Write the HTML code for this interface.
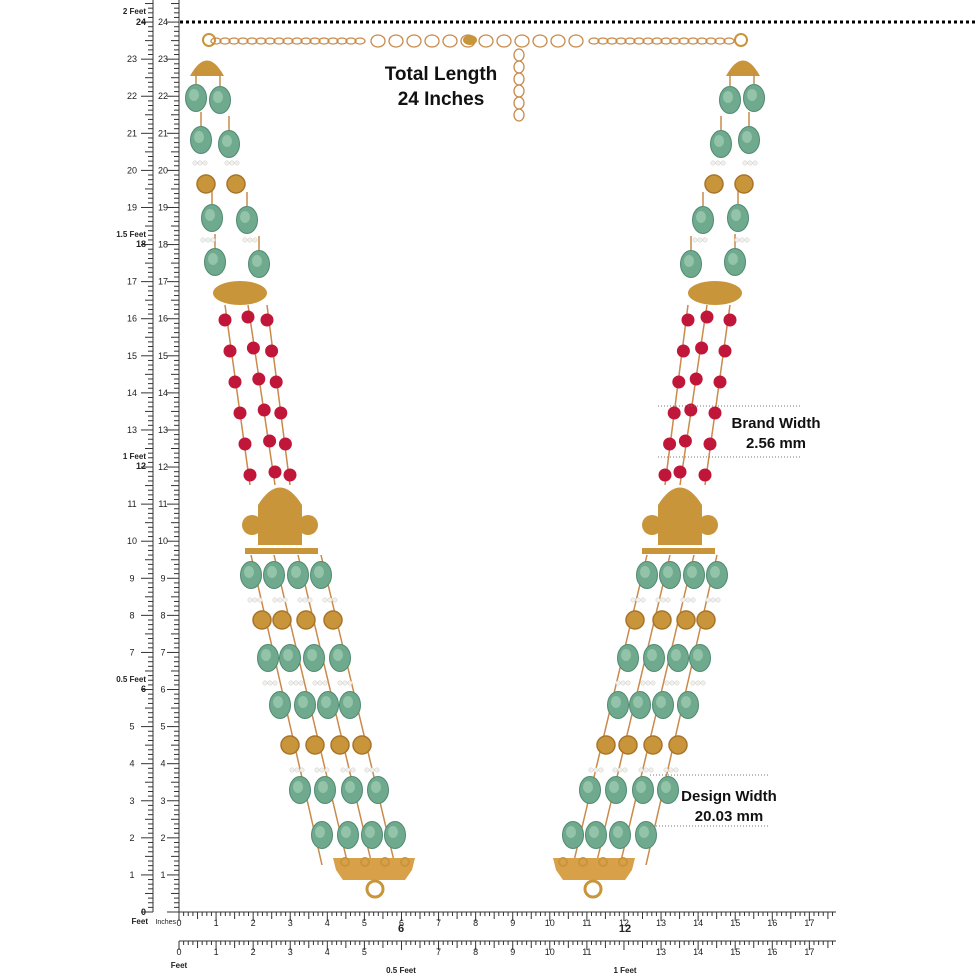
<!DOCTYPE html>
<html><head><meta charset="utf-8">
<style>
html,body{margin:0;padding:0;background:#fff;}
svg{display:block;}
text{font-family:"Liberation Sans",sans-serif;}
.lb{font-size:9px;fill:#222;}
.bd{font-weight:bold;}
</style></head>
<body>
<svg id="s" width="976" height="976" viewBox="0 0 976 976" xmlns="http://www.w3.org/2000/svg">
<rect width="976" height="976" fill="#fff"/>
<g id="rul" stroke="#333" stroke-width="1"></g>
<line x1="180" y1="22" x2="976" y2="22" stroke="#000" stroke-width="3" stroke-dasharray="3,3"/>
<g id="neck"></g>
<g class="lb" text-anchor="end">
<text x="146" y="14" class="bd" font-size="8">2 Feet</text><text x="146" y="25" class="bd" font-size="9">24</text>
<text x="146" y="237" class="bd" font-size="8">1.5 Feet</text><text x="146" y="247" class="bd">18</text>
<text x="146" y="459" class="bd" font-size="8">1 Feet</text><text x="146" y="469" class="bd">12</text>
<text x="146" y="682" class="bd" font-size="8">0.5 Feet</text><text x="146" y="692" class="bd">6</text>
<text x="146" y="915" class="bd">0</text><text x="148" y="924" class="bd" font-size="8">Feet</text>
<text x="176" y="924" font-size="7">Inches</text>
</g>
<g id="lbl" class="lb" text-anchor="middle"></g>
<g class="lb bd" text-anchor="middle">
<text x="401" y="932" font-size="11">6</text>
<text x="625" y="932" font-size="11">12</text>
<text x="179" y="968" font-size="8">Feet</text>
<text x="401" y="973" font-size="8">0.5 Feet</text>
<text x="625" y="973" font-size="8">1 Feet</text>
</g>
<g font-weight="bold" fill="#111" text-anchor="middle">
<text x="441" y="80" font-size="19">Total Length</text>
<text x="441" y="105" font-size="19">24 Inches</text>
<text x="776" y="428" font-size="15">Brand Width</text>
<text x="776" y="448" font-size="15">2.56 mm</text>
<text x="729" y="801" font-size="15">Design Width</text>
<text x="729" y="821" font-size="15">20.03 mm</text>
</g>
<g stroke="#777" stroke-width="1" stroke-dasharray="1,2">
<line x1="658" y1="406" x2="800" y2="406"/><line x1="658" y1="457" x2="800" y2="457"/>
<line x1="650" y1="775" x2="770" y2="775"/><line x1="650" y1="826" x2="770" y2="826"/>
</g>
</svg>
<script>
var NS="http://www.w3.org/2000/svg";
function el(p,t,a){var e=document.createElementNS(NS,t);for(var k in a)e.setAttribute(k,a[k]);p.appendChild(e);return e;}
var R=document.getElementById("rul"),L=document.getElementById("lbl"),N=document.getElementById("neck");
var u=37.08,y0=912,x0=179;
el(R,"line",{x1:153,y1:0,x2:153,y2:912});
el(R,"line",{x1:179,y1:0,x2:179,y2:912});
el(R,"line",{x1:179,y1:912,x2:836,y2:912});
el(R,"line",{x1:179,y1:941,x2:836,y2:941});
for(var i=0;i<=24*8+4;i++){var y=y0-i*u/8;if(y<0)break;var l=i%8==0?12:(i%4==0?8:5);
el(R,"line",{x1:153-l,y1:y,x2:153,y2:y});el(R,"line",{x1:179-l,y1:y,x2:179,y2:y});}
for(var i=0;i<=17.7*8;i++){var x=x0+i*u/8;var l=i%8==0?9:(i%4==0?7:4);
el(R,"line",{x1:x,y1:912,x2:x,y2:912+l});el(R,"line",{x1:x,y1:941,x2:x,y2:941+l});}
for(var i=1;i<=24;i++){var y=y0-i*u+3;
 if(i%6){var t=el(L,"text",{x:132,y:y});t.textContent=i;}
 var t2=el(L,"text",{x:163,y:y});t2.textContent=i;}
for(var i=0;i<=17;i++){var x=x0+i*u;var t=el(L,"text",{x:x,y:926});t.textContent=i;
 if(i!=6&&i!=12){var t3=el(L,"text",{x:x,y:955});t3.textContent=i;}}
var G="#c8953a",GD="#a8742a";
function chain(a,b,c,d){el(N,"line",{x1:a,y1:b,x2:c,y2:d,stroke:"#c98a4a","stroke-width":1.5});}
function green(x,y){el(N,"ellipse",{cx:x,cy:y,rx:10.5,ry:13.5,fill:"#6fa98e",stroke:"#4f8a70","stroke-width":1});el(N,"ellipse",{cx:x-2,cy:y-3,rx:5,ry:6,fill:"#93c4aa"});}
function gold(x,y){el(N,"circle",{cx:x,cy:y,r:9,fill:G,stroke:GD,"stroke-width":1.5});}
function red(x,y){el(N,"circle",{cx:x,cy:y,r:6.5,fill:"#c0163a"});}
function pearls(x,y){for(var k=-1;k<=1;k++)el(N,"circle",{cx:x+k*5,cy:y,r:2.2,fill:"#f2f0ea",stroke:"#ccc","stroke-width":.5});}
function side(m){
 var X1=function(x){return m?m-18-x:x;};
 var X2=function(x){return m?m-13-x:x;};
 var X3=function(x){return m?m-8-x:x;};
 var X=function(x){return m?m-x:x;};
 el(N,"circle",{cx:X1(209),cy:40,r:6,fill:"none",stroke:G,"stroke-width":2});
 el(N,"path",{d:"M"+X1(190)+",76 Q"+X1(207)+",45 "+X1(224)+",76 Z",fill:G});
 [[196,98],[220,100],[201,140],[229,144],[212,218],[247,220],[215,262],[259,264]].forEach(function(p){chain(X1(p[0]),p[1]-14,X1(p[0]),p[1]-28);green(X1(p[0]),p[1]);});
 gold(X1(206),184);gold(X1(236),184);pearls(X1(200),163);pearls(X1(232),163);pearls(X1(208),240);pearls(X1(250),240);
 el(N,"ellipse",{cx:X2(240),cy:293,rx:27,ry:12,fill:G});
 for(var c=0;c<3;c++){var xa=[225,248,267][c],xb=[250,275,290][c];chain(X2(xa),305,X2(xb),485);
  for(var r=0;r<6;r++){var t=r/5;red(X2(xa+(xb-xa)*t),320+t*155+(c==1?-3:0));}}
 el(N,"path",{d:"M"+X3(258)+",545 L"+X3(258)+",505 Q"+X3(280)+",470 "+X3(302)+",505 L"+X3(302)+",545 Z",fill:G});
 el(N,"circle",{cx:X3(252),cy:525,r:10,fill:G});el(N,"circle",{cx:X3(308),cy:525,r:10,fill:G});
 el(N,"rect",{x:Math.min(X3(245),X3(318)),y:548,width:73,height:6,fill:G});
 var rows=[["g",575,[251,274,298,321]],["p",600,[255,280,305,330]],["o",620,[262,282,306,333]],["g",658,[268,290,314,340]],["p",683,[270,296,320,345]],["g",705,[280,305,328,350]],["o",745,[290,315,340,362]],["p",770,[297,322,348,372]],["g",790,[300,325,352,378]],["g",835,[322,348,372,395]]];
 for(var c=0;c<4;c++)chain(X(rows[0][2][c]),555,X(rows[9][2][c]),865);
 rows.forEach(function(r){r[2].forEach(function(x){var xx=X(x);if(r[0]=="g")green(xx,r[1]);else if(r[0]=="o")gold(xx,r[1]);else pearls(xx,r[1]);});});
 el(N,"path",{d:"M"+X(333)+",858 L"+X(415)+",858 L"+X(412)+",870 L"+X(405)+",880 L"+X(343)+",880 L"+X(336)+",870 Z",fill:"#d9a04a"});
 for(var k=0;k<4;k++)el(N,"circle",{cx:X(345+k*20),cy:862,r:4,fill:"none",stroke:G,"stroke-width":2});
 el(N,"circle",{cx:X(375),cy:889,r:8,fill:"none",stroke:G,"stroke-width":3});
}
side(0);side(968);
for(var x=216;x<735;x+=9){var big=(x>360&&x<590);if(big&&((x-216)/9)%2==1)continue;el(N,"ellipse",{cx:x,cy:41,rx:big?7:5,ry:big?6:3,fill:"none",stroke:"#c98a4a","stroke-width":1.3});}
for(var y=55;y<125;y+=12)el(N,"ellipse",{cx:519,cy:y,rx:5,ry:6,fill:"none",stroke:"#c98a4a","stroke-width":1.3});
el(N,"ellipse",{cx:470,cy:40,rx:7,ry:5,fill:G});
</script>
</body></html>
